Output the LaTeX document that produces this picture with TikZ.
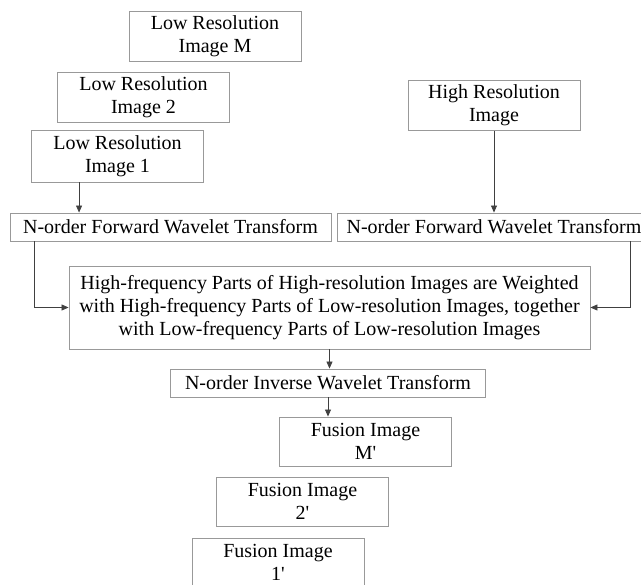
\documentclass[tikz,border=0pt]{standalone}
\usepackage{fontspec}
\setmainfont{Liberation Serif}
\usetikzlibrary{arrows.meta,positioning}
\tikzset{img box/.style={rectangle,draw=black!40,line width=0.9pt,minimum width=172pt,minimum height=50pt,inner sep=0pt,align=center,font=\fontsize{20}{23}\selectfont},
         wt box/.style={img box,minimum height=28pt},
         flow/.style={->,draw=black!75,line width=0.8pt}
}

\begin{document}
\begin{tikzpicture}[x=1pt,y=-1pt,>={Triangle[length=7pt,width=6pt]}]
\useasboundingbox (0,0) rectangle (641,585);

% low resolution inputs
\node[img box] (lrM) at (215,36.5) {Low Resolution\\Image M};
\node[img box] (lr2) at (143.5,97) {Low Resolution\\Image 2};
\node[img box,minimum height=52pt] (lr1) at (117.5,156) {Low Resolution\\Image 1};
\node[img box] (hr) at (494,105.5) {High Resolution\\Image};

% wavelet steps
\node[wt box,minimum width=321pt] (fwtl) at (170.5,227) {N-order Forward Wavelet Transform};
\node[wt box,minimum width=314pt] (fwtr) at (494,227) {N-order Forward Wavelet Transform};
\node[wt box,minimum width=521pt,minimum height=83pt] (mix) at (329.5,307.5)
    {High-frequency Parts of High-resolution Images are Weighted\\
     with High-frequency Parts of Low-resolution Images, together\\
     with Low-frequency Parts of Low-resolution Images};
\node[wt box,minimum width=315pt] (iwt) at (328,383) {N-order Inverse Wavelet Transform};

% fused outputs
\node[img box,minimum height=49pt] (fM) at (365.5,441.5) {Fusion Image\\M\textquotesingle};
\node[img box,minimum height=49pt] (f2) at (302.5,501.5) {Fusion Image\\2\textquotesingle};
\node[img box,minimum height=49pt] (f1) at (278,562.5) {Fusion Image\\1\textquotesingle};

\coordinate[right=48pt of lr1.south west] (a1);
\coordinate[right=25pt of fwtl.south west] (a2);
\coordinate[right=294pt of fwtr.south west] (a3);

\draw[flow] (a1) -- (a1 |- fwtl.north);
\draw[flow] (hr.south) -- (hr.south |- fwtr.north);
\draw[flow] (a2) |- (mix.west);
\draw[flow] (a3) |- (mix.east);
\draw[flow] (mix.south) -- (mix.south |- iwt.north);
\draw[flow] (iwt.south) -- (iwt.south |- fM.north);
\end{tikzpicture}
\end{document}
